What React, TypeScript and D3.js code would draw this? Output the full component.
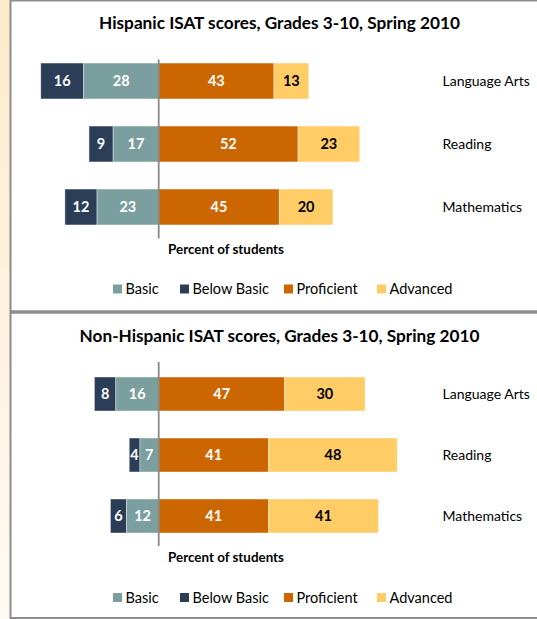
import React from "react";
import * as d3 from "d3";

const categories = ["Language Arts", "Reading", "Mathematics"];
const legendOrder = ["Basic", "Below Basic", "Proficient", "Advanced"];

const hispBelowBasic = [16, 9, 12];
const hispBasic = [28, 17, 23];
const hispProficient = [43, 52, 45];
const hispAdvanced = [13, 23, 20];

const nonHispBelowBasic = [8, 4, 6];
const nonHispBasic = [16, 7, 12];
const nonHispProficient = [47, 41, 41];
const nonHispAdvanced = [30, 48, 41];

const titles = [
  "Hispanic ISAT scores, Grades 3-10, Spring 2010",
  "Non-Hispanic ISAT scores, Grades 3-10, Spring 2010",
];
const axisTitle = "Percent of students";

const colors: Record<string, string> = {
  "Below Basic": "#2B3D57",
  Basic: "#7A9F9E",
  Proficient: "#CC6600",
  Advanced: "#FFCC66",
};
const labelColors: Record<string, string> = {
  "Below Basic": "#FFFFFF",
  Basic: "#FFFFFF",
  Proficient: "#FFFFFF",
  Advanced: "#000000",
};

const FONT = "Lato, 'Open Sans', sans-serif";
const W = 537;
const H = 619;

type PanelLayout = {
  titleY: number;
  bandTop: number;
  bandBottom: number;
  padInner: number;
  lineTop: number;
  lineBottom: number;
  axisTitleY: number;
  legendY: number;
};

const layouts: PanelLayout[] = [
  { titleY: 28.5, bandTop: 49.5, bandBottom: 238.5, padInner: 0.43, lineTop: 59.5, lineBottom: 238.5, axisTitleY: 254, legendY: 294 },
  { titleY: 341.5, bandTop: 363.5, bandBottom: 546.5, padInner: 0.443, lineTop: 362, lineBottom: 546, axisTitleY: 562, legendY: 602.5 },
];

const panelData = [
  { belowBasic: hispBelowBasic, basic: hispBasic, proficient: hispProficient, advanced: hispAdvanced },
  { belowBasic: nonHispBelowBasic, basic: nonHispBasic, proficient: nonHispProficient, advanced: nonHispAdvanced },
];

const x = d3.scaleLinear().domain([-50, 110]).range([24.7, 453.5]);
const legendX = [113, 180, 284, 377];

function Panel({ idx }: { idx: number }) {
  const L = layouts[idx];
  const d = panelData[idx];
  const y = d3
    .scaleBand<string>()
    .domain(categories)
    .range([L.bandTop, L.bandBottom])
    .paddingInner(L.padInner)
    .paddingOuter(L.padInner / 2);

  const segs: { cat: string; level: string; v: number; x0: number; x1: number }[] = [];
  categories.forEach((cat, i) => {
    const bb = d.belowBasic[i];
    const b = d.basic[i];
    const p = d.proficient[i];
    const a = d.advanced[i];
    segs.push({ cat, level: "Below Basic", v: bb, x0: -(bb + b), x1: -b });
    segs.push({ cat, level: "Basic", v: b, x0: -b, x1: 0 });
    segs.push({ cat, level: "Proficient", v: p, x0: 0, x1: p });
    segs.push({ cat, level: "Advanced", v: a, x0: p, x1: p + a });
  });

  return (
    <g>
      <text x={279.5} y={L.titleY} textAnchor="middle" fontFamily={FONT} fontWeight="bold" fontSize={17.2} fill="#000">
        {titles[idx]}
      </text>
      {segs.map((s, k) => (
        <rect
          key={k}
          x={x(s.x0)}
          y={y(s.cat)}
          width={x(s.x1) - x(s.x0)}
          height={y.bandwidth()}
          fill={colors[s.level]}
          stroke="#FFFFFF"
          strokeOpacity={0.5}
          strokeWidth={0.8}
        />
      ))}
      {segs.map((s, k) => (
        <text
          key={"t" + k}
          x={(x(s.x0) + x(s.x1)) / 2}
          y={(y(s.cat) as number) + y.bandwidth() / 2 + 5}
          textAnchor="middle"
          fontFamily={FONT}
          fontWeight="bold"
          fontSize={14.5}
          fill={labelColors[s.level]}
        >
          {s.v}
        </text>
      ))}
      <line x1={x(0)} x2={x(0)} y1={L.lineTop} y2={L.lineBottom} stroke="#8A8A8A" strokeWidth={1.8} />
      {categories.map((c) => (
        <text key={c} x={442.5} y={(y(c) as number) + y.bandwidth() / 2 + 5} fontFamily={FONT} fontSize={14} fill="#000">
          {c}
        </text>
      ))}
      <text x={226} y={L.axisTitleY} textAnchor="middle" fontFamily={FONT} fontWeight="bold" fontSize={13.4} fill="#000">
        {axisTitle}
      </text>
      {legendOrder.map((lv, i) => (
        <g key={lv}>
          <rect x={legendX[i]} y={L.legendY - 9.5} width={9} height={9} fill={colors[lv]} />
          <text x={legendX[i] + 12.5} y={L.legendY} fontFamily={FONT} fontSize={14.5} fill="#000">
            {lv}
          </text>
        </g>
      ))}
    </g>
  );
}

export default function App() {
  return (
    <div style={{ position: "absolute", left: 0, top: 0 }}>
      <svg width={W} height={H} style={{ display: "block" }}>
        <defs>
          <linearGradient id="strip" x1="0" y1="0" x2="0" y2="1">
            <stop offset="0" stopColor="#FDEACB" />
            <stop offset="1" stopColor="#FFFAF3" />
          </linearGradient>
        </defs>
        <rect x={0} y={0} width={W} height={H} fill="#FFFFFF" />
        <rect x={0} y={0} width={10} height={H} fill="url(#strip)" />
        <line x1={10} x2={W} y1={0.75} y2={0.75} stroke="#8C8C8C" strokeWidth={1.5} />
        <line x1={10.5} x2={10.5} y1={0} y2={H} stroke="#8C8C8C" strokeWidth={2} />
        <line x1={10} x2={W} y1={312} y2={312} stroke="#8C8C8C" strokeWidth={3.5} />
        <line x1={10} x2={W} y1={618} y2={618} stroke="#8C8C8C" strokeWidth={2} />
        {[0, 1].map((i) => (
          <Panel key={i} idx={i} />
        ))}
      </svg>
    </div>
  );
}
